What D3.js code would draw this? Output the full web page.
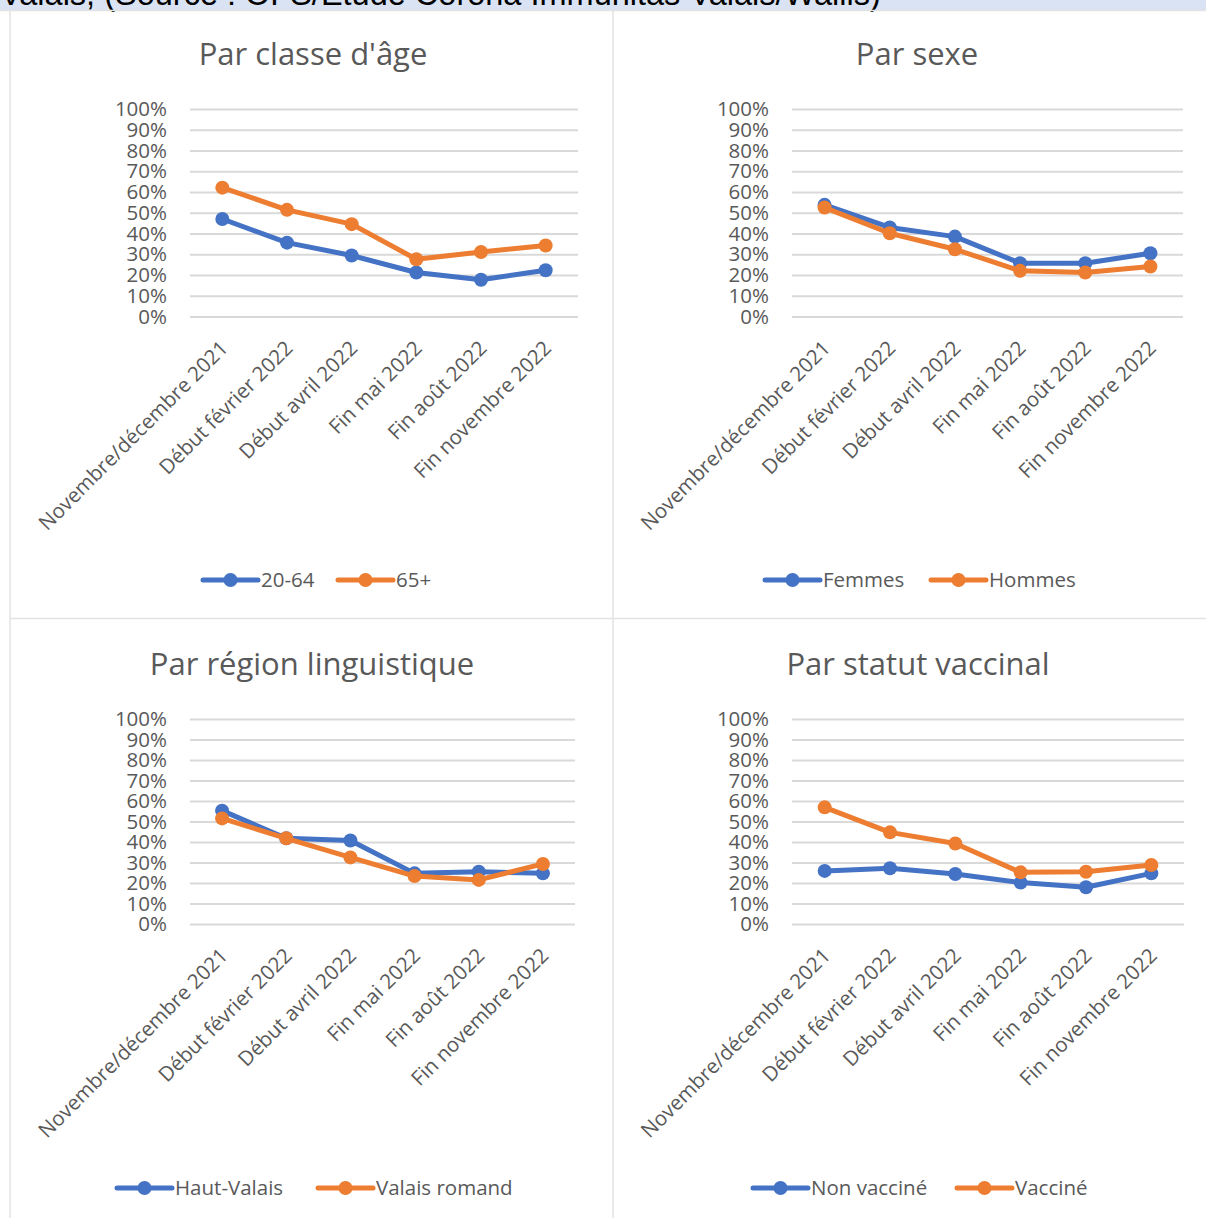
<!DOCTYPE html>
<html>
<head>
<meta charset="utf-8">
<script src="https://cdn.jsdelivr.net/npm/d3@7"></script>
<style>
  html, body { margin: 0; padding: 0; background: #fff; }
  svg { display: block; }
</style>
</head>
<body>
<svg id="chart" width="1206" height="1218"></svg>
<script>
// Survey waves (x categories), shared by all four panels
const periods = ["Novembre/décembre 2021", "Début février 2022", "Début avril 2022",
                 "Fin mai 2022", "Fin août 2022", "Fin novembre 2022"];
const yTicks = [0, 0.1, 0.2, 0.3, 0.4, 0.5, 0.6, 0.7, 0.8, 0.9, 1.0];

// Par classe d'âge
const age2064 = [0.47, 0.356, 0.294, 0.212, 0.177, 0.223];
const age65 = [0.621, 0.514, 0.445, 0.276, 0.311, 0.342];
// Par sexe
const femmes = [0.538, 0.429, 0.385, 0.257, 0.257, 0.305];
const hommes = [0.525, 0.401, 0.324, 0.22, 0.212, 0.241];
// Par région linguistique
const hautValais = [0.553, 0.418, 0.407, 0.247, 0.255, 0.247];
const valaisRomand = [0.515, 0.418, 0.325, 0.234, 0.215, 0.293];
// Par statut vaccinal
const nonVaccine = [0.259, 0.272, 0.244, 0.202, 0.179, 0.247];
const vaccine = [0.569, 0.447, 0.393, 0.252, 0.255, 0.288];

const BLUE = "#4472C4", ORANGE = "#ED7D31", TEXT = "#595959", GRID = "#d9d9d9";
const FONT = "'Open Sans', Lato, sans-serif";
const SMALL = 20.5;

const svg = d3.select("#chart");

// Heading strip across the top (only its lower edge is in view)
svg.append("rect").attr("x", 0).attr("y", 0).attr("width", 1206).attr("height", 10)
  .attr("fill", "#dae3f3");
svg.append("text").attr("x", 0).attr("y", 5)
  .attr("font-family", "Arial, 'Liberation Sans', sans-serif").attr("font-size", 32.5)
  .attr("fill", "#000")
  .text("Valais, (Source : OFS/Etude Corona Immunitas Valais/Wallis)");

// Panel frames
const frame = svg.append("g").attr("stroke", "#e3e3e3").attr("stroke-width", 1.5).attr("fill", "none");
frame.append("line").attr("x1", 0).attr("x2", 1206).attr("y1", 10.5).attr("y2", 10.5);
frame.append("line").attr("x1", 10).attr("x2", 10).attr("y1", 10).attr("y2", 1218);
frame.append("line").attr("x1", 613).attr("x2", 613).attr("y1", 10).attr("y2", 1218);
frame.append("line").attr("x1", 10).attr("x2", 1206).attr("y1", 618.5).attr("y2", 618.5);

const panels = [
  { title: "Par classe d'âge", cx: 313, titleY: 65, x0: 190, x1: 578, yTop: 109, yBot: 316.5, legY: 580,
    series: [{ name: "20-64", values: age2064, color: BLUE, lx: 203 }, { name: "65+", values: age65, color: ORANGE, lx: 338 }] },
  { title: "Par sexe", cx: 917, titleY: 65, x0: 792, x1: 1183, yTop: 109, yBot: 316.5, legY: 580,
    series: [{ name: "Femmes", values: femmes, color: BLUE, lx: 765 }, { name: "Hommes", values: hommes, color: ORANGE, lx: 931 }] },
  { title: "Par région linguistique", cx: 312, titleY: 675, x0: 190, x1: 575, yTop: 719, yBot: 924, legY: 1188,
    series: [{ name: "Haut-Valais", values: hautValais, color: BLUE, lx: 117 }, { name: "Valais romand", values: valaisRomand, color: ORANGE, lx: 318 }] },
  { title: "Par statut vaccinal", cx: 918, titleY: 675, x0: 792, x1: 1184, yTop: 719, yBot: 924, legY: 1188,
    series: [{ name: "Non vacciné", values: nonVaccine, color: BLUE, lx: 753 }, { name: "Vacciné", values: vaccine, color: ORANGE, lx: 957 }] }
];

panels.forEach(p => {
  const g = svg.append("g");
  const x = d3.scaleBand().domain(periods).range([p.x0, p.x1]);
  const y = d3.scaleLinear().domain([0, 1]).range([p.yBot, p.yTop]);

  g.append("text").attr("x", p.cx).attr("y", p.titleY).attr("text-anchor", "middle")
    .attr("font-family", FONT).attr("font-size", 31).attr("fill", TEXT).text(p.title);

  // Y axis: gridlines + percentage labels
  const yAxis = d3.axisLeft(y).tickValues(yTicks).tickFormat(d3.format(".0%"))
    .tickSize(-(p.x1 - p.x0)).tickPadding(23);
  const ya = g.append("g").attr("transform", `translate(${p.x0},0)`).call(yAxis);
  ya.select(".domain").remove();
  ya.selectAll(".tick line").attr("stroke", GRID).attr("stroke-width", 1.8);
  ya.selectAll(".tick text").attr("font-family", FONT).attr("font-size", SMALL).attr("fill", TEXT);

  // X axis: rotated category labels
  const xAxis = d3.axisBottom(x).tickSize(0).tickPadding(0);
  const xa = g.append("g").attr("transform", `translate(0,${p.yBot})`).call(xAxis);
  xa.select(".domain").remove();
  xa.selectAll(".tick text")
    .attr("font-family", FONT).attr("font-size", SMALL).attr("fill", TEXT)
    .attr("text-anchor", "end").attr("dy", null).attr("y", 0)
    .attr("transform", "translate(7,33) rotate(-45)");

  // Series lines and markers
  const line = d3.line().x((d, i) => x(periods[i]) + x.bandwidth() / 2).y(d => y(d));
  p.series.forEach(s => {
    g.append("path").datum(s.values).attr("d", line).attr("fill", "none")
      .attr("stroke", s.color).attr("stroke-width", 5).attr("stroke-linejoin", "round").attr("stroke-linecap", "round");
    g.selectAll(null).data(s.values).enter().append("circle")
      .attr("cx", (d, i) => x(periods[i]) + x.bandwidth() / 2).attr("cy", d => y(d))
      .attr("r", 7).attr("fill", s.color);

    // Legend entry
    const lg = g.append("g").attr("transform", `translate(${s.lx},${p.legY})`);
    lg.append("line").attr("x1", 0).attr("x2", 55).attr("y1", 0).attr("y2", 0)
      .attr("stroke", s.color).attr("stroke-width", 5).attr("stroke-linecap", "round");
    lg.append("circle").attr("cx", 27.5).attr("cy", 0).attr("r", 7).attr("fill", s.color);
    lg.append("text").attr("x", 58).attr("y", 0).attr("dy", "0.35em")
      .attr("font-family", FONT).attr("font-size", SMALL).attr("fill", TEXT).text(s.name);
  });
});
</script>
</body>
</html>
